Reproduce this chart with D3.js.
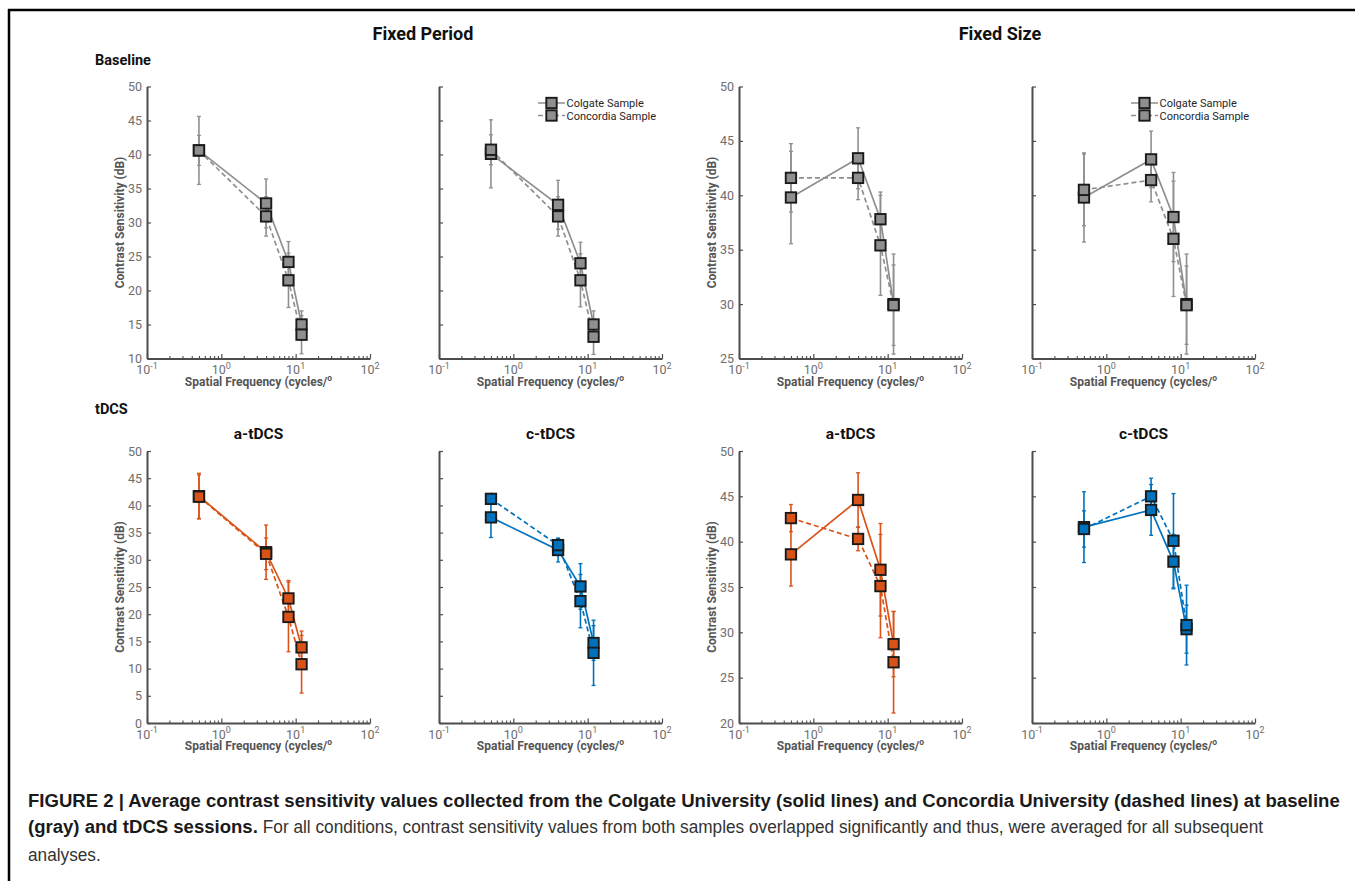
<!DOCTYPE html>
<html><head><meta charset="utf-8">
<script src="https://cdn.jsdelivr.net/npm/d3@7"></script>
<style>body{margin:0;background:#fff}svg{display:block}</style>
</head><body><svg id="c" width="1355" height="881"></svg>
<script>
// ---------------- DATA ----------------
const frequencies = [0.5, 4, 8, 12];
const seriesNames = ["Colgate Sample", "Concordia Sample"];
const xTickValues = [0.1, 1, 10, 100];
const xTickExponents = ["-1", "0", "1", "2"];

// Fixed Period – Baseline (left)
const fpBase1Colgate = [40.6, 32.8, 24.2, 15.0];
const fpBase1ColgateErr = [5.0, 3.6, 3.0, 2.0];
const fpBase1Concordia = [40.6, 30.9, 21.5, 13.5];
const fpBase1ConcordiaErr = [2.2, 2.9, 4.0, 2.8];
// Fixed Period – Baseline (right)
const fpBase2Colgate = [40.1, 32.6, 24.0, 15.0];
const fpBase2ColgateErr = [5.0, 3.6, 3.1, 2.0];
const fpBase2Concordia = [40.7, 30.9, 21.5, 13.2];
const fpBase2ConcordiaErr = [2.2, 2.9, 3.9, 2.6];
// Fixed Size – Baseline (left)
const fsBase1Colgate = [39.8, 43.4, 37.8, 30.0];
const fsBase1ColgateErr = [4.25, 2.8, 2.5, 4.6];
const fsBase1Concordia = [41.6, 41.6, 35.4, 29.9];
const fsBase1ConcordiaErr = [3.15, 2.0, 4.6, 3.7];
// Fixed Size – Baseline (right)
const fsBase2Colgate = [39.8, 43.3, 38.0, 30.0];
const fsBase2ColgateErr = [4.1, 2.6, 4.1, 4.6];
const fsBase2Concordia = [40.5, 41.4, 36.0, 29.9];
const fsBase2ConcordiaErr = [3.3, 2.0, 5.3, 3.6];
// Fixed Period – a-tDCS
const fpAColgate = [41.7, 31.4, 22.9, 13.9];
const fpAColgateErr = [4.2, 5.0, 3.3, 3.0];
const fpAConcordia = [41.6, 31.1, 19.5, 10.8];
const fpAConcordiaErr = [4.0, 2.9, 6.4, 5.3];
// Fixed Period – c-tDCS
const fpCColgate = [37.8, 31.8, 25.1, 14.7];
const fpCColgateErr = [3.7, 2.2, 4.2, 3.2];
const fpCConcordia = [41.2, 32.7, 22.4, 12.9];
const fpCConcordiaErr = [1.0, 1.2, 4.9, 6.0];
// Fixed Size – a-tDCS
const fsAColgate = [38.6, 44.6, 36.9, 28.7];
const fsAColgateErr = [3.5, 3.0, 5.1, 3.6];
const fsAConcordia = [42.6, 40.3, 35.1, 26.7];
const fsAConcordiaErr = [1.5, 1.3, 5.7, 5.6];
// Fixed Size – c-tDCS
const fsCColgate = [41.6, 43.5, 37.8, 30.35];
const fsCColgateErr = [3.9, 2.8, 3.0, 2.65];
const fsCConcordia = [41.4, 45.0, 40.1, 30.8];
const fsCConcordiaErr = [2.0, 2.0, 5.2, 4.4];

const captionLine1 = "FIGURE 2 | Average contrast sensitivity values collected from the Colgate University (solid lines) and Concordia University (dashed lines) at baseline";
const captionLine2Bold = "(gray) and tDCS sessions.";
const captionLine2 = "For all conditions, contrast sensitivity values from both samples overlapped significantly and thus, were averaged for all subsequent";
const captionLine3 = "analyses.";

// ---------------- LAYOUT ----------------
const COLORS = {gray: "#8f8f8f", orange: "#d95319", blue: "#0072bd"};
const AXC = "#4d4d4d", TICKTXT = "#6e6e6e", LABTXT = "#555555";
const FONT = "Roboto, 'Liberation Sans', Arial, sans-serif";
const PW = 223, PH = 272;
const MS = 10.4; // marker side

const panels = [
  {x:147, y:86.5, yDom:[10,50], showY:true, color:"gray", legend:false, title:null, col:fpBase1Colgate, colE:fpBase1ColgateErr, con:fpBase1Concordia, conE:fpBase1ConcordiaErr},
  {x:439, y:86.5, yDom:[10,50], showY:false, color:"gray", legend:true, title:null, col:fpBase2Colgate, colE:fpBase2ColgateErr, con:fpBase2Concordia, conE:fpBase2ConcordiaErr},
  {x:739, y:86.5, yDom:[25,50], showY:true, color:"gray", legend:false, title:null, col:fsBase1Colgate, colE:fsBase1ColgateErr, con:fsBase1Concordia, conE:fsBase1ConcordiaErr},
  {x:1032, y:86.5, yDom:[25,50], showY:false, color:"gray", legend:true, title:null, col:fsBase2Colgate, colE:fsBase2ColgateErr, con:fsBase2Concordia, conE:fsBase2ConcordiaErr},
  {x:147, y:451, yDom:[0,50], showY:true, color:"orange", legend:false, title:"a-tDCS", col:fpAColgate, colE:fpAColgateErr, con:fpAConcordia, conE:fpAConcordiaErr},
  {x:439, y:451, yDom:[0,50], showY:false, color:"blue", legend:false, title:"c-tDCS", col:fpCColgate, colE:fpCColgateErr, con:fpCConcordia, conE:fpCConcordiaErr},
  {x:739, y:451, yDom:[20,50], showY:true, color:"orange", legend:false, title:"a-tDCS", col:fsAColgate, colE:fsAColgateErr, con:fsAConcordia, conE:fsAConcordiaErr},
  {x:1032, y:451, yDom:[20,50], showY:false, color:"blue", legend:false, title:"c-tDCS", col:fsCColgate, colE:fsCColgateErr, con:fsCConcordia, conE:fsCConcordiaErr}
];

const svg = d3.select("#c");
svg.append("rect").attr("width",1355).attr("height",881).attr("fill","#fff");

// frame
svg.append("line").attr("x1",8).attr("x2",1355).attr("y1",10).attr("y2",10).attr("stroke","#000").attr("stroke-width",2.5);
svg.append("line").attr("x1",9).attr("x2",9).attr("y1",9).attr("y2",881).attr("stroke","#000").attr("stroke-width",2.5);

// headings
function heading(txt, x, y, size, anchor){
  svg.append("text").attr("x",x).attr("y",y).attr("text-anchor",anchor||"start")
    .attr("font-family",FONT).attr("font-weight","bold").attr("font-size",size).attr("fill","#111").text(txt);
}
heading("Fixed Period", 423, 40, 18, "middle");
heading("Fixed Size", 1000, 40, 18, "middle");
heading("Baseline", 95, 65, 14.5);
heading("tDCS", 95, 414, 14.5);

const minorTicks = [];
[-1,0,1].forEach(k => { for (let m=2;m<=9;m++) minorTicks.push(m*Math.pow(10,k)); });

function drawPanel(p){
  const g = svg.append("g");
  const xs = d3.scaleLog().domain([0.1,100]).range([p.x, p.x+PW]);
  const ys = d3.scaleLinear().domain(p.yDom).range([p.y+PH, p.y]);
  const col = COLORS[p.color];

  // y axis
  const ya = d3.axisLeft(ys).tickValues(d3.range(p.yDom[0], p.yDom[1]+0.01, 5))
    .tickSize(-4).tickSizeOuter(0).tickPadding(5)
    .tickFormat(p.showY ? d3.format("d") : () => "");
  const yg = g.append("g").attr("transform",`translate(${p.x},0)`).call(ya);
  yg.select(".domain").attr("stroke",AXC).attr("stroke-width",2);
  yg.selectAll(".tick line").attr("stroke",AXC).attr("stroke-width",1.2);
  yg.selectAll(".tick text").attr("fill",TICKTXT).attr("font-family",FONT).attr("font-size",12.5);

  // x axis major
  const xa = d3.axisBottom(xs).tickValues(xTickValues).tickSize(-4.5).tickSizeOuter(0).tickFormat(() => "");
  const xg = g.append("g").attr("transform",`translate(0,${p.y+PH})`).call(xa);
  xg.select(".domain").attr("stroke",AXC).attr("stroke-width",2);
  xg.selectAll(".tick line").attr("stroke",AXC).attr("stroke-width",1.2);
  // x axis minor
  const xm = d3.axisBottom(xs).tickValues(minorTicks).tickSize(-2.5).tickSizeOuter(0).tickFormat(() => "");
  const xmg = g.append("g").attr("transform",`translate(0,${p.y+PH})`).call(xm);
  xmg.select(".domain").remove();
  xmg.selectAll(".tick line").attr("stroke",AXC).attr("stroke-width",1.1);

  // x tick labels with superscripts
  xTickValues.forEach((v,i) => {
    const t = g.append("text").attr("x",xs(v)).attr("y",p.y+PH+15.5).attr("text-anchor","middle")
      .attr("font-family",FONT).attr("font-size",12.5).attr("fill",TICKTXT);
    t.append("tspan").text("10");
    t.append("tspan").attr("dy",-5.5).attr("font-size",9).text(xTickExponents[i]);
  });
  // x title
  const xt = g.append("text").attr("x",p.x+PW/2).attr("y",p.y+PH+27).attr("text-anchor","middle")
    .attr("font-family",FONT).attr("font-weight","bold").attr("font-size",12).attr("fill",LABTXT);
  xt.append("tspan").text("Spatial Frequency (cycles/");
  xt.append("tspan").attr("dy",-5).attr("font-size",8.5).text("o");
  // y title
  if (p.showY){
    g.append("text").attr("transform",`translate(${p.x-23},${p.y+PH/2}) rotate(-90)`).attr("text-anchor","middle")
      .attr("font-family",FONT).attr("font-weight","bold").attr("font-size",12).attr("fill",LABTXT)
      .text("Contrast Sensitivity (dB)");
  }
  // title
  if (p.title){
    g.append("text").attr("x",p.x+PW/2).attr("y",p.y-12).attr("text-anchor","middle")
      .attr("font-family",FONT).attr("font-weight","bold").attr("font-size",15.5).attr("fill","#111").text(p.title);
  }

  const series = [
    {vals:p.col, errs:p.colE, dash:null},
    {vals:p.con, errs:p.conE, dash:"5,3"}
  ];
  const line = d3.line().x(d => xs(d.f)).y(d => ys(d.v));
  // error bars
  series.forEach(s => {
    const pts = frequencies.map((f,i) => ({f, v:s.vals[i], e:s.errs[i]}));
    const eg = g.append("g");
    pts.forEach(d => {
      const cx = xs(d.f);
      eg.append("line").attr("x1",cx).attr("x2",cx).attr("y1",ys(d.v-d.e)).attr("y2",ys(d.v+d.e))
        .attr("stroke",col).attr("stroke-width",1.6);
      [d.v-d.e, d.v+d.e].forEach(yv => {
        eg.append("line").attr("x1",cx-2).attr("x2",cx+2).attr("y1",ys(yv)).attr("y2",ys(yv))
          .attr("stroke",col).attr("stroke-width",1.3);
      });
    });
  });
  // lines
  series.forEach(s => {
    const pts = frequencies.map((f,i) => ({f, v:s.vals[i]}));
    g.append("path").datum(pts).attr("d",line).attr("fill","none").attr("stroke",col)
      .attr("stroke-width",1.7).attr("stroke-dasharray",s.dash);
  });
  // markers
  series.forEach(s => {
    g.selectAll(null).data(frequencies.map((f,i) => ({f, v:s.vals[i]}))).enter().append("rect")
      .attr("x",d => xs(d.f)-MS/2).attr("y",d => ys(d.v)-MS/2).attr("width",MS).attr("height",MS)
      .attr("fill",col).attr("stroke","#1a1a1a").attr("stroke-width",1.9);
  });

  // legend
  if (p.legend){
    seriesNames.forEach((nm,i) => {
      const ly = p.y + 16.5 + i*12.5;
      const lx = p.x + 112.5;
      g.append("line").attr("x1",lx-13.5).attr("x2",lx+13.5).attr("y1",ly).attr("y2",ly)
        .attr("stroke",col).attr("stroke-width",1.5).attr("stroke-dasharray", i===1 ? "5,3" : null);
      g.append("rect").attr("x",lx-MS/2).attr("y",ly-MS/2).attr("width",MS).attr("height",MS)
        .attr("fill",col).attr("stroke","#1a1a1a").attr("stroke-width",1.9);
      g.append("text").attr("x",lx+15).attr("y",ly+4).attr("font-family",FONT).attr("font-size",11)
        .attr("fill","#262626").text(nm);
    });
  }
}
panels.forEach(drawPanel);

// caption
const CAPFONT = "'Liberation Sans', Arial, Helvetica, sans-serif";
const cap1 = svg.append("text").attr("x",28).attr("y",807).attr("font-family",CAPFONT)
  .attr("font-weight","bold").attr("fill","#1a1a1a").attr("font-size",17).text(captionLine1);
const w1 = cap1.node().getComputedTextLength();
const capSize = 17 * (1312 / w1);
cap1.attr("font-size",capSize);
const cap2b = svg.append("text").attr("x",28).attr("y",833).attr("font-family",CAPFONT)
  .attr("font-size",capSize).attr("font-weight","bold").attr("fill","#1a1a1a").text(captionLine2Bold);
const bEnd = 28 + cap2b.node().getComputedTextLength();
const reg2 = svg.append("text").attr("x",bEnd+5).attr("y",833).attr("font-family",CAPFONT)
  .attr("font-size",capSize).attr("fill","#333").text(captionLine2);
const regW = reg2.node().getComputedTextLength();
const regScale = (1263 - bEnd - 5) / regW;
reg2.attr("textLength", 1263 - bEnd - 5).attr("lengthAdjust","spacingAndGlyphs");
const cap3 = svg.append("text").attr("x",28).attr("y",861).attr("font-family",CAPFONT)
  .attr("font-size",capSize).attr("fill","#333").text(captionLine3);
const w3 = cap3.node().getComputedTextLength();
cap3.attr("textLength", w3*regScale).attr("lengthAdjust","spacingAndGlyphs");
</script>
</body></html>
